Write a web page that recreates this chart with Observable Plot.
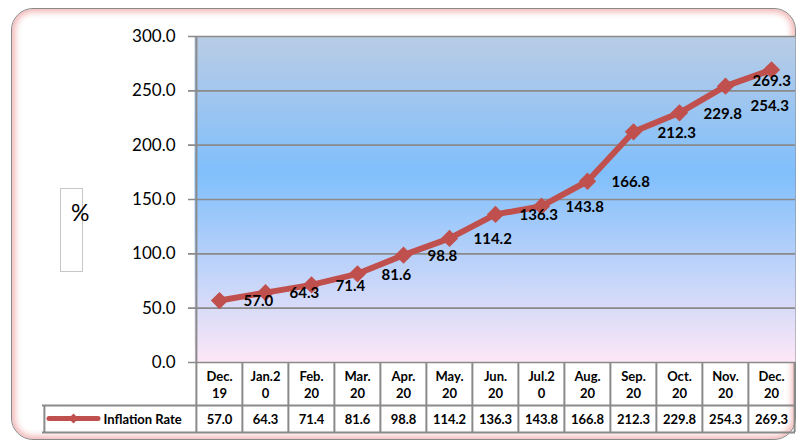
<!DOCTYPE html>
<html>
<head>
<meta charset="utf-8">
<script src="https://cdn.jsdelivr.net/npm/d3@7"></script>
<script src="https://cdn.jsdelivr.net/npm/@observablehq/plot@0.6"></script>
<style>
  html, body { margin: 0; padding: 0; background: #fff; }
  #wrap { position: relative; width: 798px; height: 443px; overflow: hidden; font-family: Lato, "Open Sans", sans-serif; }
  #box { position: absolute; left: 11px; top: 8px; width: 783px; height: 430px; border: 1.5px solid #8a8a8a; border-radius: 22px;
         box-shadow: inset 0 0 6px 3px rgba(232,120,120,0.55); background: #fff; }
  #ylabBox { position: absolute; left: 60px; top: 188px; width: 21px; height: 82px; border: 1.5px solid #c6c6c6; }
  #ylab { position: absolute; left: 71px; top: 198px; font-size: 23px; color: #000; }
  #chart { position: absolute; left: 0; top: 0; }
</style>
</head>
<body>
<div id="wrap">
  <div id="box"></div>
  <div id="ylabBox"></div>
  <div id="ylab"></div>
  <div id="chart"></div>
</div>
<script>
const categories = ["Dec.\n19","Jan.2\n0","Feb.\n20","Mar.\n20","Apr.\n20","May.\n20","Jun.\n20","Jul.2\n0","Aug.\n20","Sep.\n20","Oct.\n20","Nov.\n20","Dec.\n20"];
const inflation = [57.0, 64.3, 71.4, 81.6, 98.8, 114.2, 136.3, 143.8, 166.8, 212.3, 229.8, 254.3, 269.3];
const yTicks = [0, 50, 100, 150, 200, 250, 300];
const seriesName = "Inflation Rate";
const yLabel = "%";

document.getElementById("ylab").textContent = yLabel;

const data = categories.map((c, i) => ({cat: c, value: inflation[i]}));
const n = data.length;

const W = 798, H = 443, mL = 194, mR = 3, mT = 36, mB = 81;
const bw = (W - mL - mR) / n;
const frameH = H - mT - mB;
const red = "#c0504d";
const grey = "#8a8a8a";
const font = "Lato, 'Open Sans', sans-serif";

const chart = Plot.plot({
  width: W, height: H,
  marginLeft: mL, marginRight: mR, marginTop: mT, marginBottom: mB,
  style: {background: "transparent", fontFamily: font, fontSize: "17px", color: "#000"},
  x: {type: "band", domain: categories, padding: 0, axis: null},
  y: {domain: [0, 300], ticks: yTicks, tickFormat: d => d.toFixed(1), tickSize: 0, tickPadding: 19, label: null},
  marks: [
    Plot.frame({fill: "url(#bgGrad)", stroke: "none"}),
    // gridlines + tick marks
    Plot.ruleY(yTicks, {stroke: grey, strokeWidth: 1.6, insetLeft: -6}),
    // table verticals (first one doubles as y axis line)
    Plot.ruleX([categories[0]], {dx: -bw / 2, stroke: grey, strokeWidth: 2, insetBottom: -70}),
    Plot.ruleX(categories.slice(1), {dx: -bw / 2, stroke: grey, strokeWidth: 2, insetTop: frameH, insetBottom: -70}),
    Plot.ruleX([categories[n - 1]], {dx: bw / 2, stroke: grey, strokeWidth: 2, insetTop: frameH, insetBottom: -70}),
    Plot.ruleX([categories[0]], {dx: -bw / 2 - 152, stroke: grey, strokeWidth: 2, insetTop: frameH + 43, insetBottom: -70}),
    // table horizontals
    Plot.ruleY([yTicks[0]], {dy: 43, stroke: grey, strokeWidth: 2, insetLeft: -152}),
    Plot.ruleY([yTicks[0]], {dy: 70, stroke: grey, strokeWidth: 2, insetLeft: -152}),
    // series
    Plot.line(data, {x: "cat", y: "value", stroke: red, strokeWidth: 6}),
    Plot.dot(data, {x: "cat", y: "value", symbol: "diamond2", r: 7.8, fill: red, stroke: "none"}),
    // data labels
    Plot.text(data.slice(0, n - 2), {x: "cat", y: "value", text: d => d.value.toFixed(1), textAnchor: "start", dx: 24, dy: 1, fontSize: 15, fontWeight: "bold", fill: "#000"}),
    Plot.text([data[n - 2]], {x: "cat", y: "value", text: d => d.value.toFixed(1), textAnchor: "start", dx: 25, dy: 20, fontSize: 15, fontWeight: "bold", fill: "#000"}),
    Plot.text([data[n - 1]], {x: "cat", y: "value", text: d => d.value.toFixed(1), textAnchor: "start", dx: -19, dy: 11, fontSize: 15, fontWeight: "bold", fill: "#000"}),
    // table: category row
    Plot.text(categories, {x: d => d, frameAnchor: "bottom", lineAnchor: "middle", dy: 22, fontSize: 13, fontWeight: "bold", lineHeight: 1.3, fill: "#000"}),
    // table: values row
    Plot.text(data, {x: "cat", frameAnchor: "bottom", lineAnchor: "middle", text: d => d.value.toFixed(1), dy: 57, fontSize: 13, fontWeight: "bold", fill: "#000"}),
    // legend cell
    Plot.ruleY([yTicks[0]], {dy: 56, stroke: red, strokeWidth: 5, strokeLinecap: "round", insetLeft: -145, insetRight: W - mR - 98}),
    Plot.dot([seriesName], {frameAnchor: "bottom-left", dx: -121, dy: 56, symbol: "diamond2", r: 4.5, fill: red, stroke: "none"}),
    Plot.text([seriesName], {frameAnchor: "bottom-left", lineAnchor: "middle", dx: -91, dy: 57, textAnchor: "start", fontSize: 13, fontWeight: "bold", fill: "#000"})
  ]
});

// gradient background for the plot area
const svg = d3.select(chart);
const defs = svg.insert("defs", ":first-child");
const g = defs.append("linearGradient").attr("id", "bgGrad").attr("x1", 0).attr("y1", 0).attr("x2", 0).attr("y2", 1);
g.append("stop").attr("offset", "0").attr("stop-color", "#b9cce5");
g.append("stop").attr("offset", "0.42").attr("stop-color", "#80bffc");
g.append("stop").attr("offset", "1").attr("stop-color", "#fde7f7");

document.getElementById("chart").appendChild(chart);
</script>
</body>
</html>
